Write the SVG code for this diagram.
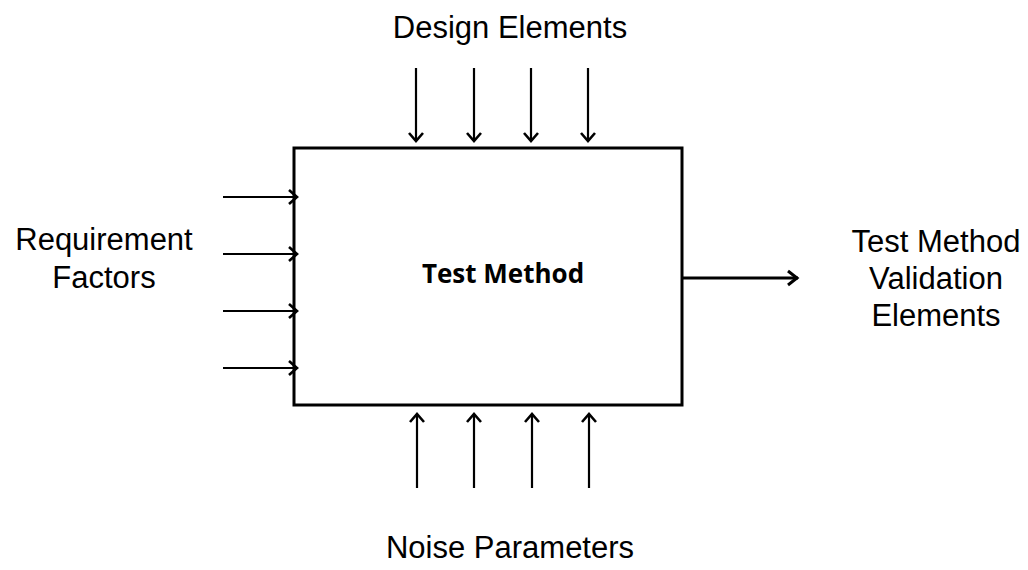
<svg xmlns="http://www.w3.org/2000/svg" width="1028" height="570" viewBox="0 0 1028 570">
<style>
.lbl{font-family:"Liberation Sans",Arial,sans-serif;font-size:31px;fill:#000;text-anchor:middle}
.title{font-family:"Open Sans","Liberation Sans",sans-serif;font-size:26px;font-weight:bold;fill:#000;text-anchor:middle}
.arr{stroke:#000;stroke-width:2.2;fill:none;marker-end:url(#ah)}
.arr3{stroke:#000;stroke-width:3;fill:none;marker-end:url(#ah3)}
</style>
<defs>
<marker id="ah" markerUnits="userSpaceOnUse" viewBox="0 0 20 20" refX="18" refY="10" markerWidth="20" markerHeight="20" orient="auto">
<polyline points="10,3 18,10 10,17" fill="none" stroke="#000" stroke-width="2.6"/>
</marker>
<marker id="ah3" markerUnits="userSpaceOnUse" viewBox="0 0 20 20" refX="18" refY="10" markerWidth="20" markerHeight="20" orient="auto">
<polyline points="8,3 17,10 8,17" fill="none" stroke="#000" stroke-width="3"/>
</marker>
</defs>
<rect width="1028" height="570" fill="#fff"/>
<g id="test-method">
<rect x="294" y="148" width="388" height="257" fill="#fff" stroke="#000" stroke-width="3"/>
<text class="title" x="503" y="283">Test Method</text>
</g>
<g id="design-elements"><text class="lbl" x="510" y="38">Design Elements</text></g>
<g id="requirement-factors"><text class="lbl" x="104" y="250">Requirement</text><text class="lbl" x="104" y="288">Factors</text></g>
<g id="validation-elements"><text class="lbl" x="936" y="252">Test Method</text><text class="lbl" x="936" y="289">Validation</text><text class="lbl" x="936" y="326">Elements</text></g>
<g id="noise-parameters"><text class="lbl" x="510" y="558">Noise Parameters</text></g>
<g id="connectors">
<line class="arr" x1="416" y1="68" x2="416" y2="141"/>
<line class="arr" x1="474" y1="68" x2="474" y2="141"/>
<line class="arr" x1="531" y1="68" x2="531" y2="141"/>
<line class="arr" x1="588" y1="68" x2="588" y2="141"/>
<line class="arr" x1="223" y1="197" x2="297" y2="197"/>
<line class="arr" x1="223" y1="254" x2="297" y2="254"/>
<line class="arr" x1="223" y1="311" x2="297" y2="311"/>
<line class="arr" x1="223" y1="368" x2="297" y2="368"/>
<line class="arr" x1="417" y1="488" x2="417" y2="414"/>
<line class="arr" x1="474" y1="488" x2="474" y2="414"/>
<line class="arr" x1="532" y1="488" x2="532" y2="414"/>
<line class="arr" x1="589" y1="488" x2="589" y2="414"/>
<line class="arr3" x1="682" y1="278" x2="798" y2="278"/>
</g>
</svg>
